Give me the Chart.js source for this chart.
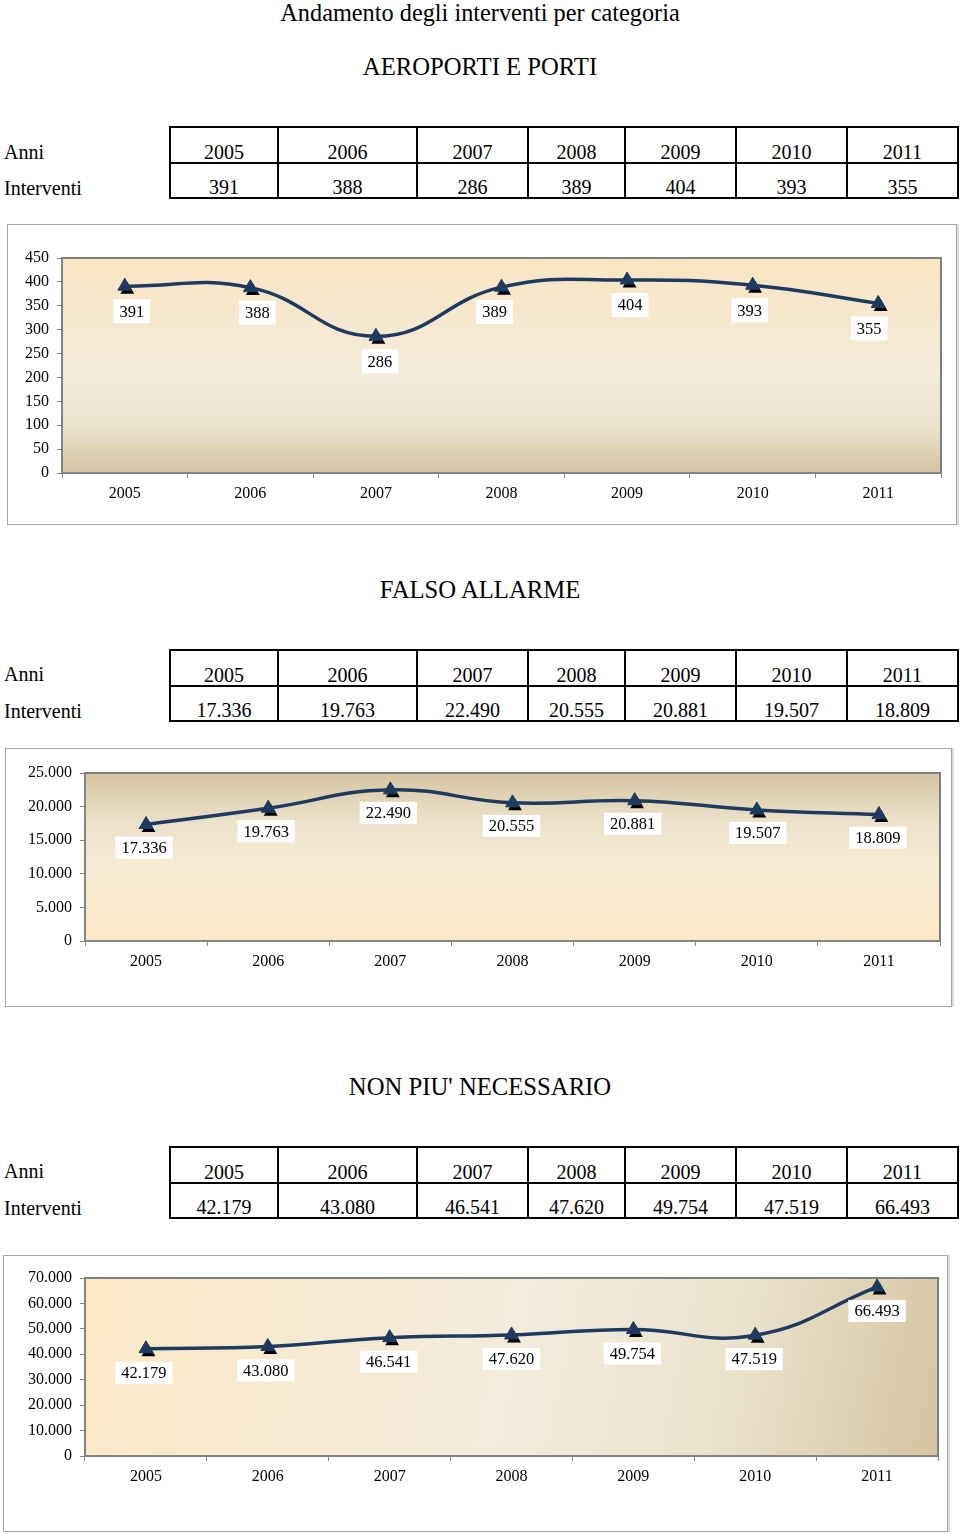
<!DOCTYPE html>
<html>
<head>
<meta charset="utf-8">
<title>Andamento degli interventi per categoria</title>
<script src="https://cdn.jsdelivr.net/npm/chart.js@4.4.1/dist/chart.umd.min.js"></script>
<style>
    body { margin: 0; background: #fff; font-family: 'Liberation Serif', 'Times New Roman', serif; color: #000; }
    .page { position: relative; width: 960px; height: 1534px; overflow: hidden; }
    .heading { position: absolute; left: 0; width: 960px; text-align: center; line-height: 26px; }
    .rowLabel { position: absolute; left: 4px; font-size: 20px; line-height: 22px; }
    table.data { position: absolute; left: 169px; border-collapse: collapse; table-layout: fixed; font-size: 20px; }
    table.data td { border: 2px solid #000; text-align: center; vertical-align: bottom; padding: 0; line-height: 20px; }
    table.data tr.r1 td { height: 34px; }
    table.data tr.r2 td { height: 33px; }
    .box { position: absolute; border: 1px solid #a3a3a3; box-shadow: 2px 0 0 #dcdcdc; background: #fff; }
    .box canvas { display: block; }
</style>
</head>
<body>
<div class="page">
    <div class="heading" style="top:0; font-size:24.3px;">Andamento degli interventi per categoria</div>

    <div class="heading" style="top:54px; font-size:24.7px;">AEROPORTI E PORTI</div>
    <div class="rowLabel" style="top:141px;">Anni</div>
    <div class="rowLabel" style="top:177px;">Interventi</div>
    <table class="data" id="tableAeroporti" style="top:126px;"></table>
    <div class="box" style="left:7px; top:224px; width:948px; height:299px;">
        <canvas id="chartAeroporti" width="948" height="299"></canvas>
    </div>

    <div class="heading" style="top:577px; font-size:24.7px;">FALSO ALLARME</div>
    <div class="rowLabel" style="top:663px;">Anni</div>
    <div class="rowLabel" style="top:700px;">Interventi</div>
    <table class="data" id="tableFalso" style="top:649px;"></table>
    <div class="box" style="left:5px; top:748px; width:945px; height:257px;">
        <canvas id="chartFalso" width="945" height="257"></canvas>
    </div>

    <div class="heading" style="top:1074px; font-size:24.7px;">NON PIU' NECESSARIO</div>
    <div class="rowLabel" style="top:1160px;">Anni</div>
    <div class="rowLabel" style="top:1197px;">Interventi</div>
    <table class="data" id="tableNonNecessario" style="top:1146px;"></table>
    <div class="box" style="left:3px; top:1255px; width:943px; height:275px;">
        <canvas id="chartNonNecessario" width="943" height="275"></canvas>
    </div>
</div>

<script>
// Data
const years = ['2005', '2006', '2007', '2008', '2009', '2010', '2011'];
const aeroportiValues = [391, 388, 286, 389, 404, 393, 355];
const falsoAllarmeValues = [17336, 19763, 22490, 20555, 20881, 19507, 18809];
const nonNecessarioValues = [42179, 43080, 46541, 47620, 49754, 47519, 66493];

// y axis: [max, step]
const aeroportiAxis = [450, 50];
const falsoAllarmeAxis = [25000, 5000];
const nonNecessarioAxis = [70000, 10000];

const columnWidths = [108, 139, 111, 97, 111, 111, 111];
const fontFamily = "'Liberation Serif', 'Times New Roman', serif";
const lineColor = '#1f3a5f';

// Italian number format (dot as thousands separator)
function formatIt(value) {
    return String(value).replace(/\B(?=(\d{3})+(?!\d))/g, '.');
}

// Build the small tables above each chart
function fillTable(id, values) {
    const table = document.getElementById(id);
    const cols = columnWidths.map(w => `<col style="width:${w}px">`).join('');
    const row1 = years.map(y => `<td>${y}</td>`).join('');
    const row2 = values.map(v => `<td>${formatIt(v)}</td>`).join('');
    table.innerHTML = `<colgroup>${cols}</colgroup><tr class="r1">${row1}</tr><tr class="r2">${row2}</tr>`;
}

function triangle(ctx, x, y, r) {
    ctx.beginPath();
    ctx.moveTo(x, y - r);
    ctx.lineTo(x + r * 0.866, y + r * 0.5);
    ctx.lineTo(x - r * 0.866, y + r * 0.5);
    ctx.closePath();
    ctx.fill();
}

// Plot area background + border, marker shadows, value boxes
const excelLook = {
    id: 'excelLook',
    beforeDraw(chart, args, opts) {
        const { ctx, chartArea: a } = chart;
        let g;
        if (opts.gradient === 'down') {
            g = ctx.createLinearGradient(0, a.top, 0, a.bottom);
            g.addColorStop(0, '#f9e5c2');
            g.addColorStop(0.55, '#f3ebdb');
            g.addColorStop(0.78, '#ebe2cd');
            g.addColorStop(1, '#d4c3a0');
        } else if (opts.gradient === 'up') {
            g = ctx.createLinearGradient(0, a.top, 0, a.bottom);
            g.addColorStop(0, '#d6c5a2');
            g.addColorStop(0.3, '#ece2cb');
            g.addColorStop(0.55, '#f6ead3');
            g.addColorStop(1, '#fbe8c6');
        } else {
            g = ctx.createLinearGradient(a.left, a.top, a.right, a.bottom);
            g.addColorStop(0, '#fbe8c6');
            g.addColorStop(0.5, '#f3ebdc');
            g.addColorStop(0.75, '#ebe2cd');
            g.addColorStop(1, '#d5c4a1');
        }
        ctx.save();
        ctx.fillStyle = g;
        ctx.fillRect(a.left, a.top, a.right - a.left, a.bottom - a.top);
        ctx.strokeStyle = '#7f7f7f';
        ctx.lineWidth = 2;
        ctx.strokeRect(a.left, a.top, a.right - a.left, a.bottom - a.top);
        ctx.restore();
    },
    beforeDatasetsDraw(chart) {
        const { ctx } = chart;
        const meta = chart.getDatasetMeta(0);
        ctx.save();
        ctx.fillStyle = '#000';
        meta.data.forEach(p => triangle(ctx, p.x + 2.5, p.y + 3.5, 8));
        ctx.restore();
    },
    afterDatasetsDraw(chart, args, opts) {
        const { ctx } = chart;
        const meta = chart.getDatasetMeta(0);
        const data = chart.data.datasets[0].data;
        ctx.save();
        ctx.font = '16.5px ' + fontFamily;
        ctx.textAlign = 'center';
        ctx.textBaseline = 'middle';
        meta.data.forEach((p, i) => {
            const text = formatIt(data[i]);
            const w = ctx.measureText(text).width + 12;
            const h = opts.h;
            const cx = p.x + (opts.dx ? opts.dx[i] : 0);
            const cy = p.y + opts.dy;
            ctx.fillStyle = '#fff';
            ctx.fillRect(cx - w / 2, cy - h / 2, w, h);
            ctx.fillStyle = '#000';
            ctx.fillText(text, cx, cy + 1);
        });
        ctx.restore();
    }
};

function makeChart(id, values, axis, layout) {
    const ctx = document.getElementById(id).getContext('2d');
    return new Chart(ctx, {
        type: 'line',
        data: {
            labels: years,
            datasets: [{
                data: values,
                borderColor: lineColor,
                borderWidth: 3.5,
                tension: 0.45,
                pointStyle: 'triangle',
                pointRadius: 8,
                pointBackgroundColor: lineColor,
                pointBorderColor: lineColor,
                pointBorderWidth: 1
            }]
        },
        options: {
            responsive: false,
            animation: false,
            layout: { padding: { top: layout.top, right: layout.right, left: 0, bottom: 0 } },
            plugins: {
                legend: { display: false },
                tooltip: { enabled: false },
                excelLook: { gradient: layout.gradient, dy: layout.dy, dx: layout.dx, h: layout.boxH }
            },
            scales: {
                x: {
                    offset: true,
                    grid: { offset: true, drawOnChartArea: false, drawTicks: true, tickLength: 5, color: '#868686' },
                    border: { color: '#868686', width: 1.5 },
                    ticks: { color: '#000', font: { family: fontFamily, size: 16 }, padding: 6, maxRotation: 0 },
                    afterFit(scale) { scale.height = layout.xHeight; }
                },
                y: {
                    min: 0,
                    max: axis[0],
                    grid: { drawOnChartArea: false, drawTicks: true, tickLength: 5, color: '#868686' },
                    border: { color: '#868686', width: 1.5 },
                    ticks: {
                        stepSize: axis[1],
                        color: '#000',
                        font: { family: fontFamily, size: 16 },
                        padding: 8,
                        callback: v => formatIt(v)
                    },
                    afterFit(scale) { scale.width = layout.yWidth; }
                }
            }
        },
        plugins: [excelLook]
    });
}

fillTable('tableAeroporti', aeroportiValues);
fillTable('tableFalso', falsoAllarmeValues);
fillTable('tableNonNecessario', nonNecessarioValues);

makeChart('chartAeroporti', aeroportiValues, aeroportiAxis,
    { top: 33, right: 15, yWidth: 54, xHeight: 51, gradient: 'down', dy: 25, boxH: 24, dx: [7, 7, 4, -7, 3, -3, -9] });
makeChart('chartFalso', falsoAllarmeValues, falsoAllarmeAxis,
    { top: 24, right: 11, yWidth: 79, xHeight: 65, gradient: 'up', dy: 23, boxH: 22, dx: [-2, -2, -2, -1, -2, 1, -1] });
makeChart('chartNonNecessario', nonNecessarioValues, nonNecessarioAxis,
    { top: 22, right: 6, yWidth: 81, xHeight: 75, gradient: 'diagonal', dy: 24, boxH: 22, dx: [-2, -2, -1, 0, -1, -1, 0] });
</script>
</body>
</html>
